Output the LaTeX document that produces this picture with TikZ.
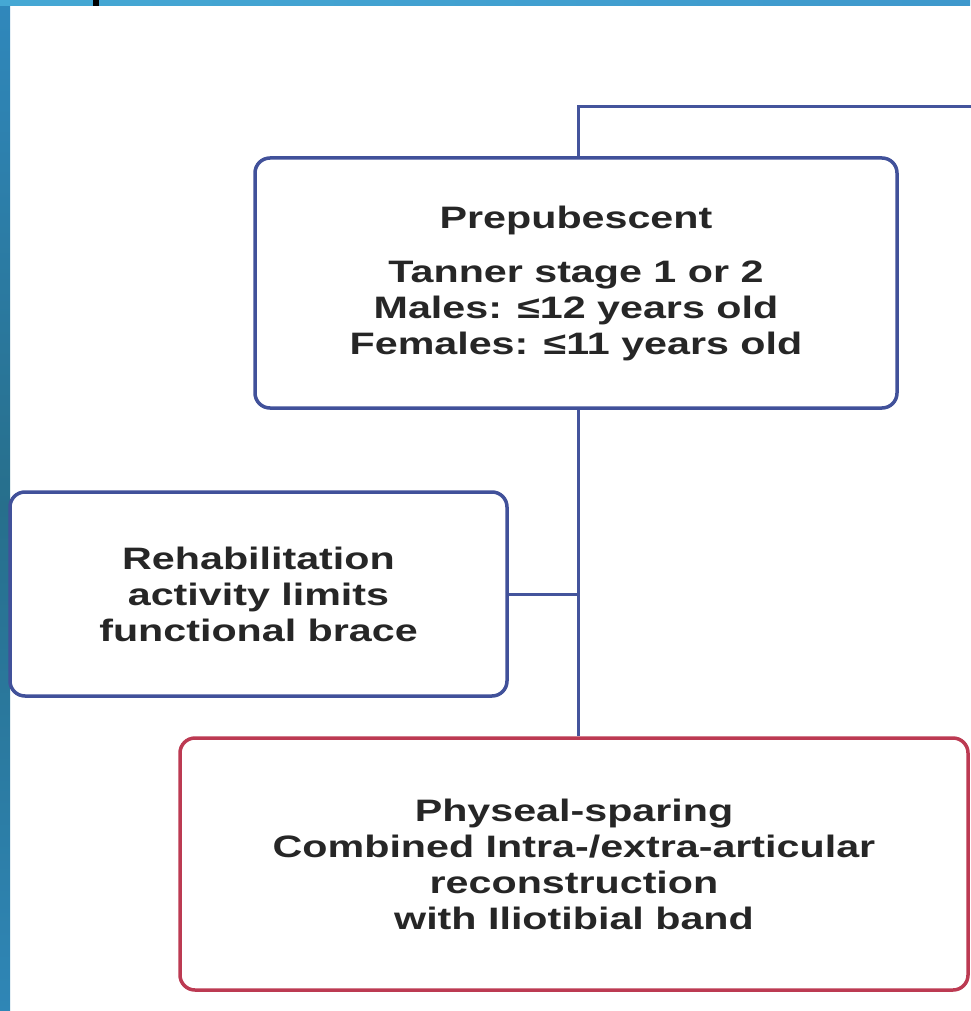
\documentclass[tikz,border=0pt]{standalone}
\usepackage{fontspec}
\setmainfont{Liberation Sans}[FakeStretch=1.33]
\definecolor{linkblue}{HTML}{44549C}
\definecolor{boxblue}{HTML}{41519A}
\definecolor{boxred}{HTML}{BC3A52}
\definecolor{inkgray}{HTML}{262626}
\definecolor{slidetop}{HTML}{3088BC}
\definecolor{slidemid}{HTML}{276F8C}
\definecolor{slidebot}{HTML}{2F86B6}
\definecolor{stripL}{HTML}{45A8D4}
\definecolor{stripR}{HTML}{3E98CC}
\begin{document}
\begin{tikzpicture}[x=1pt,y=-1pt,
  boxtext/.style={align=center,text=inkgray,font=\bfseries\fontsize{31}{36}\selectfont},
  bluebox/.style={draw=boxblue,line width=3.5pt,rounded corners=15pt,fill=white,boxtext},
  redbox/.style={draw=boxred,line width=3.5pt,rounded corners=15pt,fill=white,boxtext},
  link/.style={draw=linkblue,line width=3pt}]
  % page and slide frame
  \useasboundingbox (0,0) rectangle (970,1011);
  \fill[white] (0,0) rectangle (970,1011);
  \shade[top color=slidetop,bottom color=slidebot,middle color=slidemid]
    (0,0) rectangle (10,1011);
  \shade[left color=stripL,right color=stripR]
    (0,0) rectangle (970,6);
  \fill[black] (93,0) rectangle (99,6);

  % boxes
  \node[bluebox,minimum width=642pt,minimum height=250pt] (prep) at (576,283)
    {Prepubescent\\[18pt]Tanner stage 1 or 2\\Males: ≤12 years old\\Females: ≤11 years old};
  \node[bluebox,minimum width=497pt,minimum height=204pt] (rehab) at (258.5,594)
    {Rehabilitation\\activity limits\\functional brace};
  \node[redbox,minimum width=788pt,minimum height=252pt] (phys) at (574,864)
    {Physeal-sparing\\Combined Intra-/extra-articular\\reconstruction\\with Iliotibial band};

  % connectors
  \coordinate (top) at (578,107);
  \coordinate (topR) at (972,107);
  \draw[link] (topR) -- (top) -- (top |- prep.north);
  \draw[link] (prep.south -| top) -- (phys.north -| top);
  \draw[link] (rehab.east) -- (rehab.east -| top);
\end{tikzpicture}
\end{document}
